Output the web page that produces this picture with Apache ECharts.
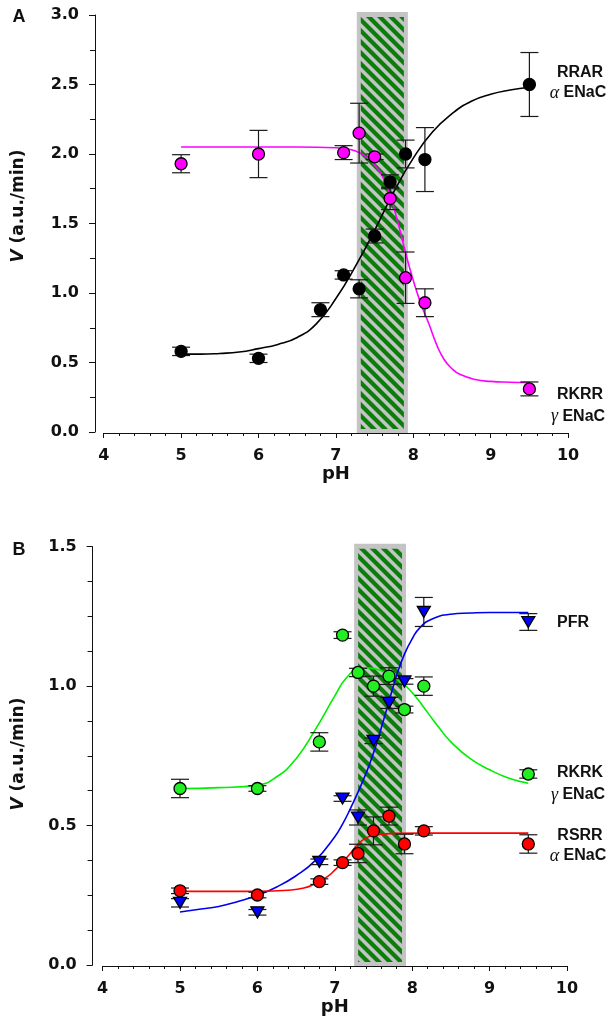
<!DOCTYPE html>
<html>
<head>
<meta charset="utf-8">
<script src="https://cdn.jsdelivr.net/npm/echarts@6/dist/echarts.min.js"></script>
<style>
  html, body { margin: 0; padding: 0; background: #fff; }
  #chart { width: 609px; height: 1035px; }
</style>
</head>
<body>
<div id="chart"></div>
<script>
// ---- Panel A: RRAR (alpha ENaC) and RKRR (gamma ENaC) ----
const rrarPH  = [5, 6, 6.8, 7.1, 7.3, 7.5, 7.7, 7.9, 8.15, 9.5];
const rrarV   = [0.58, 0.53, 0.88, 1.13, 1.03, 1.41, 1.80, 2.00, 1.96, 2.50];
const rrarErr = [0.03, 0.03, 0.05, 0.03, 0.065, 0.05, 0.05, 0.10, 0.23, 0.23];

const rkrrPH  = [5, 6, 7.1, 7.3, 7.5, 7.7, 7.9, 8.15, 9.5];
const rkrrV   = [1.93, 2.00, 2.01, 2.15, 1.98, 1.68, 1.11, 0.93, 0.31];
const rkrrErr = [0.065, 0.17, 0.05, 0.215, 0.02, 0.08, 0.185, 0.10, 0.05];

// fitted titration curves, panel A
const rrarFitPH = [5.0, 5.25, 5.5, 5.75, 6.0, 6.25, 6.5, 6.75, 7.0, 7.25, 7.5, 7.75, 8.0, 8.25, 8.5, 8.75, 9.0, 9.25, 9.5];
const rrarFitV  = [0.56, 0.56, 0.565, 0.575, 0.60, 0.63, 0.68, 0.78, 0.96, 1.19, 1.45, 1.73, 1.97, 2.16, 2.29, 2.38, 2.43, 2.46, 2.48];
const rkrrFitPH = [5.0, 6.0, 6.5, 7.0, 7.2, 7.3, 7.4, 7.5, 7.6, 7.7, 7.8, 7.9, 8.0, 8.1, 8.2, 8.3, 8.4, 8.5, 8.6, 8.8, 9.0, 9.25, 9.5];
const rkrrFitV  = [2.05, 2.05, 2.05, 2.045, 2.03, 2.01, 1.975, 1.92, 1.84, 1.70, 1.51, 1.29, 1.09, 0.92, 0.78, 0.63, 0.52, 0.455, 0.415, 0.378, 0.364, 0.358, 0.355];

// ---- Panel B: PFR, RKRK (gamma ENaC), RSRR (alpha ENaC) ----
const phB = [5, 6, 6.8, 7.1, 7.3, 7.5, 7.7, 7.9, 8.15, 9.5];
const pfrV    = [0.223, 0.189, 0.37, 0.597, 0.529, 0.804, 0.94, 1.017, 1.266, 1.23];
const pfrErr  = [0.015, 0.01, 0.01, 0.01, 0.027, 0.01, 0.02, 0.01, 0.052, 0.03];
const rkrkV   = [0.633, 0.633, 0.80, 1.183, 1.049, 1.00, 1.036, 0.916, 1.00, 0.685];
const rkrkErr = [0.033, 0.01, 0.033, 0.012, 0.015, 0.036, 0.03, 0.012, 0.033, 0.015];
const rsrrV   = [0.266, 0.251, 0.299, 0.367, 0.40, 0.481, 0.534, 0.434, 0.481, 0.434];
const rsrrErr = [0.01, 0.01, 0.01, 0.01, 0.033, 0.05, 0.032, 0.035, 0.015, 0.033];

// fitted curves, panel B
const pfrFitPH  = [5.0, 5.25, 5.5, 5.75, 6.0, 6.25, 6.5, 6.75, 7.0, 7.1, 7.2, 7.3, 7.4, 7.5, 7.6, 7.7, 7.8, 7.9, 8.0, 8.1, 8.25, 8.5, 8.75, 9.0, 9.5];
const pfrFitV   = [0.19, 0.20, 0.21, 0.228, 0.25, 0.28, 0.32, 0.375, 0.46, 0.505, 0.56, 0.62, 0.685, 0.76, 0.85, 0.945, 1.04, 1.115, 1.17, 1.21, 1.24, 1.258, 1.262, 1.264, 1.264];
const rkrkFitPH = [5.0, 5.5, 6.0, 6.25, 6.5, 6.75, 7.0, 7.15, 7.3, 7.45, 7.6, 7.75, 7.9, 8.05, 8.2, 8.35, 8.5, 8.75, 9.0, 9.25, 9.5];
const rkrkFitV  = [0.633, 0.636, 0.645, 0.675, 0.74, 0.845, 0.965, 1.03, 1.06, 1.065, 1.055, 1.035, 1.005, 0.96, 0.905, 0.85, 0.80, 0.74, 0.70, 0.67, 0.652];
const rsrrFitPH = [5.0, 6.0, 6.4, 6.6, 6.75, 6.9, 7.0, 7.1, 7.2, 7.3, 7.4, 7.5, 7.65, 7.8, 8.5, 9.5];
const rsrrFitV  = [0.264, 0.264, 0.268, 0.276, 0.292, 0.316, 0.34, 0.368, 0.40, 0.434, 0.455, 0.465, 0.47, 0.472, 0.473, 0.473];

// physiological pH window shown as a hatched band
const bandA = [7.27, 7.93];
const bandB = [7.25, 7.92];

const FONT = '"Liberation Sans", Arial, Helvetica, sans-serif';
const TICKFONT = '"DejaVu Sans", Verdana, sans-serif';
const INK = '#111';

// diagonal hatch tile (green stripes on grey)
const hatch = (function () {
  const n = 11;
  const c = document.createElement('canvas');
  c.width = n; c.height = n;
  const g = c.getContext('2d');
  g.fillStyle = '#c4c4c4';
  g.fillRect(0, 0, n, n);
  g.strokeStyle = '#0a7d0a';
  g.lineWidth = 4.2;
  for (let k = -1; k <= 1; k++) {
    g.beginPath();
    g.moveTo(k * n - 2, -2);
    g.lineTo(k * n + n + 2, n + 2);
    g.stroke();
  }
  return c;
})();

const zip = (xs, ys) => xs.map((x, i) => [x, ys[i]]);
const errData = (xs, ys, es) => xs.map((x, i) => [x, ys[i] - es[i], ys[i] + es[i]]);

function renderBand(params, api) {
  const cs = params.coordSys;
  const x0 = api.coord([api.value(0), 0])[0];
  const x1 = api.coord([api.value(1), 0])[0];
  const top = cs.y - 3;
  const bottom = cs.y + cs.height + 1;
  return {
    type: 'group',
    children: [
      { type: 'rect', shape: { x: x0, y: top, width: x1 - x0, height: bottom - top },
        style: { fill: '#c4c4c4' } },
      { type: 'rect', shape: { x: x0 + 4, y: top + 5, width: x1 - x0 - 8, height: bottom - top - 9 },
        style: { fill: { image: hatch, repeat: 'repeat' } } }
    ]
  };
}

function renderErr(params, api) {
  const x = api.value(0);
  const lo = api.coord([x, api.value(1)]);
  const hi = api.coord([x, api.value(2)]);
  const w = 9;
  const st = { stroke: '#1a1a1a', lineWidth: 1.2 };
  return {
    type: 'group',
    children: [
      { type: 'line', shape: { x1: lo[0], y1: lo[1], x2: hi[0], y2: hi[1] }, style: st },
      { type: 'line', shape: { x1: lo[0] - w, y1: lo[1], x2: lo[0] + w, y2: lo[1] }, style: st },
      { type: 'line', shape: { x1: hi[0] - w, y1: hi[1], x2: hi[0] + w, y2: hi[1] }, style: st }
    ]
  };
}

function xAxisFor(gi) {
  return {
    type: 'value', gridIndex: gi, min: 4, max: 10, interval: 1, offset: 1,
    name: 'pH', nameLocation: 'middle', nameGap: 26,
    nameTextStyle: { fontFamily: TICKFONT, fontWeight: 'bold', fontSize: 18, color: INK },
    axisLine: { show: true, onZero: false, lineStyle: { color: INK, width: 1 } },
    axisTick: { show: true, length: 5, lineStyle: { color: INK, width: 1 } },
    minorTick: { show: true, splitNumber: 5, length: 3, lineStyle: { color: INK, width: 1 } },
    splitLine: { show: false },
    minorSplitLine: { show: false },
    axisLabel: { fontFamily: TICKFONT, fontWeight: 'bold', fontSize: 16, color: INK, margin: 15 }
  };
}

function yAxisFor(gi, max, minorSplit, offset) {
  return {
    type: 'value', gridIndex: gi, min: 0, max: max, interval: 0.5, offset: offset,
    axisLine: { show: true, onZero: false, lineStyle: { color: INK, width: 1 } },
    axisTick: { show: true, length: 6, lineStyle: { color: INK, width: 1 } },
    minorTick: { show: true, splitNumber: minorSplit, length: 5, lineStyle: { color: INK, width: 1 } },
    splitLine: { show: false },
    minorSplitLine: { show: false },
    axisLabel: { fontFamily: TICKFONT, fontWeight: 'bold', fontSize: 16, color: INK, margin: 16,
                 formatter: v => v.toFixed(1) }
  };
}

function fit(name, xs, ys, color, gi) {
  return {
    name: name, type: 'line', xAxisIndex: gi, yAxisIndex: gi, data: zip(xs, ys),
    showSymbol: false, symbol: 'none', smooth: 0.5,
    lineStyle: { color: color, width: 1.6 }, z: 3, silent: true
  };
}

function errs(xs, ys, es, gi) {
  return {
    type: 'custom', xAxisIndex: gi, yAxisIndex: gi, data: errData(xs, ys, es),
    encode: { x: 0, y: [1, 2] }, renderItem: renderErr, z: 4, silent: true
  };
}

function pts(name, xs, ys, color, gi, symbol) {
  const tri = symbol === 'triangle';
  return {
    name: name, type: 'scatter', xAxisIndex: gi, yAxisIndex: gi, data: zip(xs, ys),
    symbol: symbol, symbolSize: tri ? [13, 11] : 12, symbolRotate: tri ? 180 : 0,
    itemStyle: { color: color, borderColor: '#000', borderWidth: 1.3, opacity: 1 }, z: 5
  };
}

function band(range, gi) {
  return {
    type: 'custom', xAxisIndex: gi, yAxisIndex: gi, data: [[range[0], range[1], 0]],
    encode: { x: [0, 1], y: 2 }, renderItem: renderBand, clip: false, z: 1, silent: true
  };
}

const labelStyle = { fontFamily: FONT, fontWeight: 'bold', fontSize: 16, fill: INK,
                     align: 'center', verticalAlign: 'middle' };
const greek = { g: { fontFamily: '"Liberation Serif", "DejaVu Serif", serif', fontStyle: 'italic',
                     fontWeight: 'normal', fontSize: 18, fill: INK } };

function txt(x, y, text, extra) {
  return { type: 'text', x: x, y: y, style: Object.assign({}, labelStyle, { text: text, rich: greek }, extra || {}) };
}

function yTitle(x, y) {
  return {
    type: 'text', x: x, y: y, rotation: Math.PI / 2,
    style: {
      text: '{v|V} (a.u./min)', fontFamily: TICKFONT, fontWeight: 'bold', fontSize: 17, fill: INK,
      align: 'center', verticalAlign: 'middle',
      rich: { v: { fontFamily: TICKFONT, fontWeight: 'bold', fontStyle: 'italic', fontSize: 17, fill: INK } }
    }
  };
}

const chart = echarts.init(document.getElementById('chart'), null, { renderer: 'canvas' });

chart.setOption({
  animation: false,
  backgroundColor: '#fff',
  grid: [
    { left: 103.7, top: 15, width: 464.4, height: 417 },
    { left: 102.6, top: 546.7, width: 464.4, height: 418.3 }
  ],
  xAxis: [xAxisFor(0), xAxisFor(1)],
  yAxis: [yAxisFor(0, 3, 2, 8.7), yAxisFor(1, 1.5, 4, 10)],
  series: [
    band(bandA, 0),
    band(bandB, 1),
    fit('RRAR fit', rrarFitPH, rrarFitV, '#000000', 0),
    fit('RKRR fit', rkrrFitPH, rkrrFitV, '#ff00ff', 0),
    errs(rrarPH, rrarV, rrarErr, 0),
    errs(rkrrPH, rkrrV, rkrrErr, 0),
    pts('RKRR', rkrrPH, rkrrV, '#ff00ff', 0, 'circle'),
    pts('RRAR', rrarPH, rrarV, '#000000', 0, 'circle'),

    fit('RKRK fit', rkrkFitPH, rkrkFitV, '#00ee00', 1),
    fit('PFR fit', pfrFitPH, pfrFitV, '#0000ee', 1),
    fit('RSRR fit', rsrrFitPH, rsrrFitV, '#ff0000', 1),
    errs(phB, rkrkV, rkrkErr, 1),
    errs(phB, pfrV, pfrErr, 1),
    errs(phB, rsrrV, rsrrErr, 1),
    pts('RKRK', phB, rkrkV, '#22ee22', 1, 'circle'),
    pts('PFR', phB, pfrV, '#0000ff', 1, 'triangle'),
    pts('RSRR', phB, rsrrV, '#ff0000', 1, 'circle')
  ],
  graphic: [
    txt(19, 17, 'A', { fontSize: 18 }),
    txt(19, 550, 'B', { fontSize: 18 }),
    yTitle(19, 206),
    yTitle(19, 754),
    txt(580, 72.5, 'RRAR'),
    txt(578, 93, '{g|α} ENaC'),
    txt(580, 395, 'RKRR'),
    txt(578, 416.5, '{g|γ} ENaC'),
    txt(557, 623, 'PFR', { align: 'left' }),
    txt(580, 773, 'RKRK'),
    txt(578, 795, '{g|γ} ENaC'),
    txt(580, 835.5, 'RSRR'),
    txt(578, 856, '{g|α} ENaC')
  ]
});
</script>
</body>
</html>
